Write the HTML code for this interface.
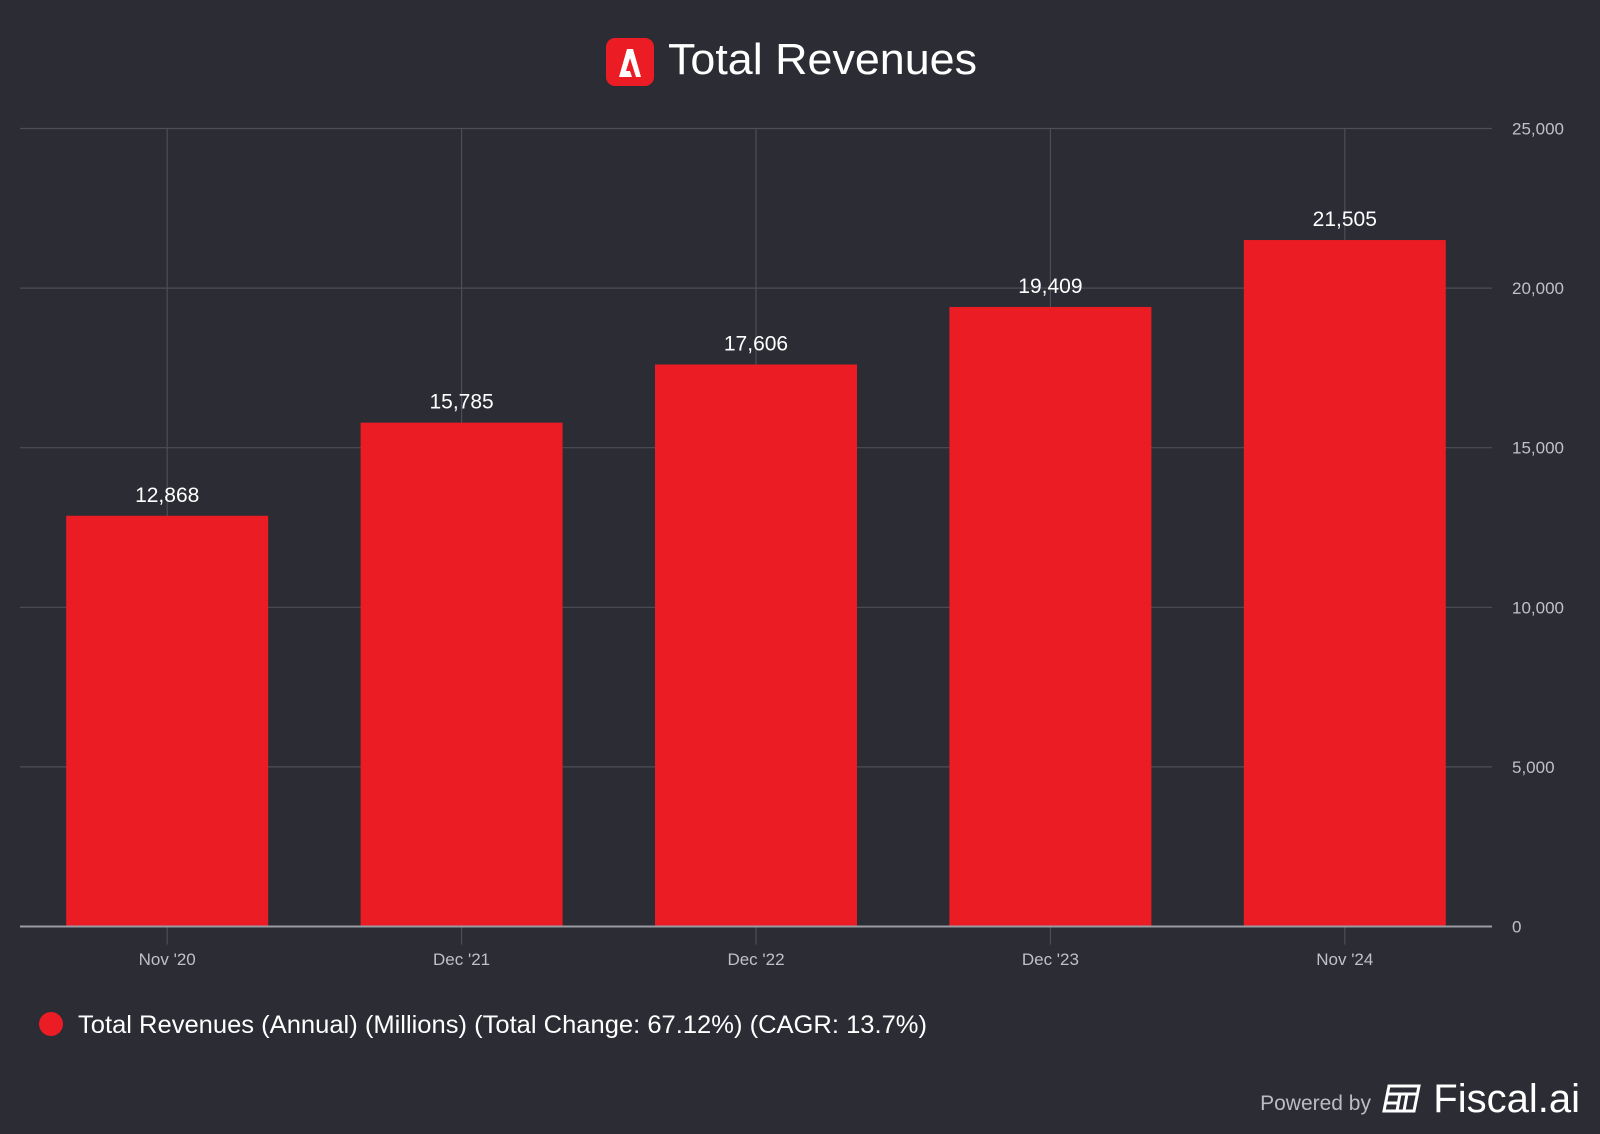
<!DOCTYPE html>
<html><head><meta charset="utf-8"><style>
body{margin:0;background:#2b2c34;width:1600px;height:1134px;overflow:hidden;font-family:"Liberation Sans",Arial,sans-serif}
svg{display:block}
</style></head><body>
<svg id="c" width="1600" height="1134">
<rect width="1600" height="1134" fill="#2b2c34"/>
<g>
<rect x="606" y="38" width="48" height="48" rx="9" fill="#ec1c24"/>
<path d="M619 77 L627 49 L633 49 L641 77 L636 77 L630 58 L626 71 L630 71 L632 77 Z" fill="#fff"/>
<text x="668" y="74" font-size="44" fill="#fff" textLength="309" lengthAdjust="spacingAndGlyphs">Total Revenues</text>
</g>
<g id="grid"></g><g id="bars"></g><g id="labels"></g>
<g>
<circle cx="51" cy="1024" r="12" fill="#ec1c24"/>
<text x="78" y="1033" font-size="25" fill="#fff" textLength="849" lengthAdjust="spacingAndGlyphs">Total Revenues (Annual) (Millions) (Total Change: 67.12%) (CAGR: 13.7%)</text>
</g>
<g>
<text x="1371" y="1110" font-size="21" fill="#bbbbc0" text-anchor="end">Powered by</text>
<g fill="none" stroke="#fff" stroke-width="3">
<path d="M1389 1086 h30 l-5 25 h-30 z M1387 1094 h30 M1386 1103 h12 M1400 1094 l-3 17 M1407 1094 l-3 17"/>
</g>
<text x="1580" y="1112" font-size="40" fill="#fff" text-anchor="end">Fiscal.ai</text>
</g>
</svg>
<script>
const categories=["Nov '20","Dec '21","Dec '22","Dec '23","Nov '24"];
const values=[12868,15785,17606,19409,21505];
const valueLabels=["12,868","15,785","17,606","19,409","21,505"];
const yTicks=[0,5000,10000,15000,20000,25000];
const yTickLabels=["0","5,000","10,000","15,000","20,000","25,000"];
const L=20,R=1492,T=128.5,B=926.5,ymax=25000;
const bw=(R-L)/categories.length;
const x=i=>L+bw*(i+0.5);
const y=v=>B-(v/ymax)*(B-T);
const NS="http://www.w3.org/2000/svg";
function mk(t,a,p){const e=document.createElementNS(NS,t);for(const k in a)e.setAttribute(k,a[k]);p.appendChild(e);return e;}
const g=document.getElementById('grid'),bg=document.getElementById('bars'),lg=document.getElementById('labels');
yTicks.forEach((t,i)=>{
 if(t>0){const l=mk('line',{x1:L,x2:R,y1:y(t),y2:y(t),stroke:'#4d4e57','stroke-width':1.2},g);
 
 }
 const tx=mk('text',{x:1512,y:y(t)+6,'font-size':17,fill:'#c0c0c6'},lg);tx.textContent=yTickLabels[i];
 
 
});
categories.forEach((c,i)=>{
 const l=mk('line',{x1:x(i),x2:x(i),y1:T,y2:B+18,stroke:'#4d4e57','stroke-width':1.2},g);
 
 
 const r=mk('rect',{x:x(i)-101,y:y(values[i]),width:202,height:B-y(values[i]),fill:'#ec1c24'},bg);
 
 
 const v=mk('text',{x:x(i),y:y(values[i])-14,'font-size':21,fill:'#fff','text-anchor':'middle'},lg);v.textContent=valueLabels[i];
 
 
 const t=mk('text',{x:x(i),y:965,'font-size':17,fill:'#c0c0c6','text-anchor':'middle'},lg);t.textContent=c;
 
 
});
const ax=mk('line',{x1:L,x2:R,y1:B,y2:B,stroke:'#9a9ba3','stroke-width':2},lg);


</script>
</body></html>
